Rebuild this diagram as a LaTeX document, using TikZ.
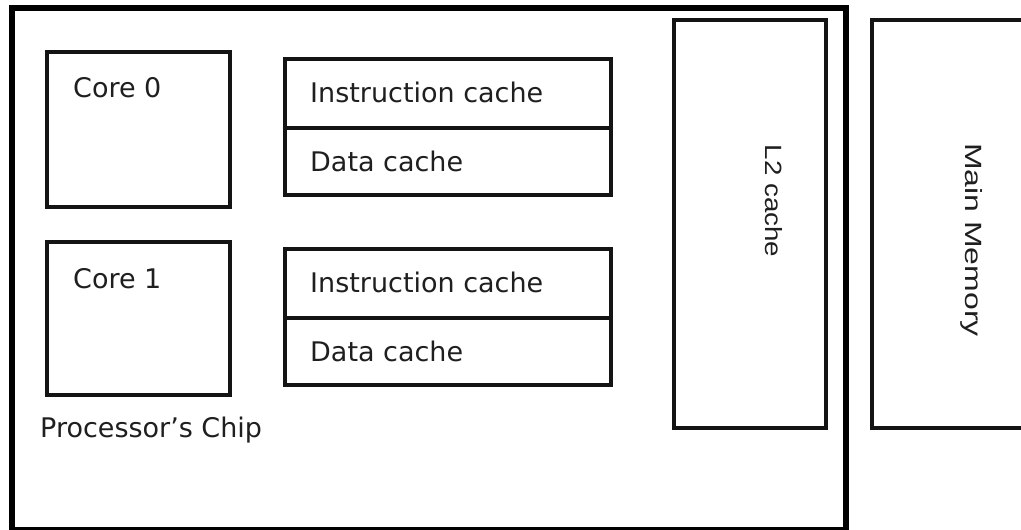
\documentclass[tikz,border=0pt]{standalone}
\usepackage{fontspec}
\setmainfont{DejaVu Sans}
\newfontfamily\arialfont{Liberation Sans}
\begin{document}
\begin{tikzpicture}[x=1pt,y=-1pt,
  unit/.style={draw=black!92, line width=4pt, inner sep=0pt, outer sep=0pt, rectangle},
  chipframe/.style={draw=black, line width=6pt, inner sep=0pt, outer sep=0pt, rectangle},
  lbl/.style={inner sep=0pt, anchor=base west, font=\fontsize{27}{30}\selectfont, text=black!88},
  vlbl/.style={inner sep=0pt, anchor=base, rotate=-90, font=\arialfont\fontsize{23.5}{26}\selectfont, text=black!88}]
  \useasboundingbox (0,0) rectangle (1021,530);
  \clip (0,0) rectangle (1021,530);

  % processor chip outline
  \node[chipframe, minimum width=834pt, minimum height=522pt] (chip) at (429,269) {};

  % cores
  \node[unit, minimum width=183pt, minimum height=155pt] (core0) at (138.5,129.5) {};
  \node[unit, minimum width=183pt, minimum height=153pt] (core1) at (138.5,318.5) {};
  \node[lbl] (core0txt) at (73,97) {Core 0};
  \node[lbl] (core1txt) at (73,288) {Core 1};

  % private L1 caches of each core
  \node[unit, minimum width=326pt, minimum height=69pt] (ic0) at (448,93.5) {};
  \node[unit, minimum width=326pt, minimum height=67pt] (dc0) at (448,161.5) {};
  \node[unit, minimum width=326pt, minimum height=69pt] (ic1) at (448,283.5) {};
  \node[unit, minimum width=326pt, minimum height=67pt] (dc1) at (448,351.5) {};
  \node[lbl] (ic0txt) at (310,102) {Instruction cache};
  \node[lbl] (dc0txt) at (310,171) {Data cache};
  \node[lbl] (ic1txt) at (310,292) {Instruction cache};
  \node[lbl] (dc1txt) at (310,361) {Data cache};

  \node[lbl] (chiptxt) at (40,437) {Processor’s Chip};

  % shared L2 cache and main memory
  \node[unit, minimum width=152pt, minimum height=408pt] (l2) at (750,224) {};
  \node[vlbl] (l2txt) at (765,201) {\scalebox{1.18}[1]{L2 cache}};
  \node[unit, minimum width=168pt, minimum height=408pt] (mem) at (956,224) {};
  \node[vlbl] (memtxt) at (965,240) {\scalebox{1.36}[1]{Main Memory}};
\end{tikzpicture}
\end{document}
